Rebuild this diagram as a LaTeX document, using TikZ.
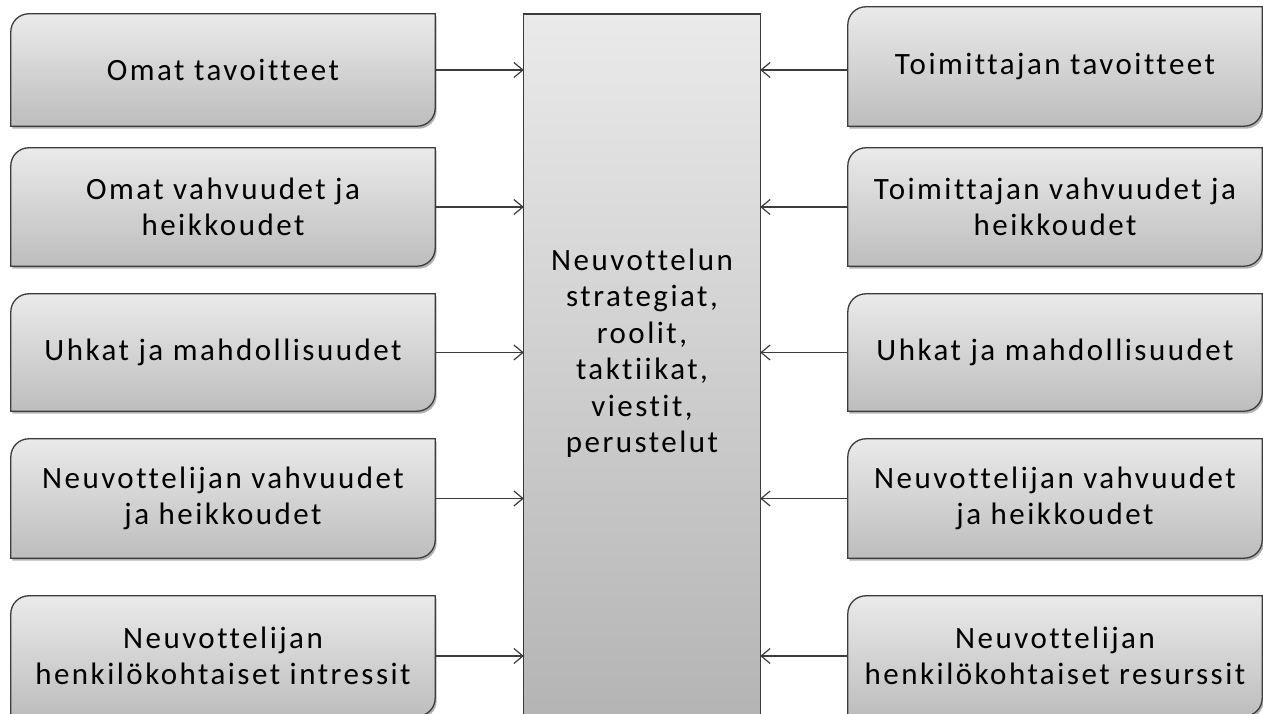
\documentclass[tikz,border=0pt]{standalone}
\usepackage{fontspec}
\setmainfont[Ligatures=NoCommon,LetterSpace=8]{Carlito}
\usetikzlibrary{arrows.meta,shadows,backgrounds}
\definecolor{edgecol}{HTML}{3C3C3C}
\definecolor{ftop}{HTML}{EAEAEA}
\definecolor{fbot}{HTML}{BDBDBD}
\tikzset{
  tabtext/.style={inner sep=0pt, align=center, text=black,
    font=\fontsize{31}{36.5}\selectfont},
  lefttab/.style={tabtext, minimum width=424pt},
  righttab/.style={tabtext, minimum width=414pt},
  tabline/.style={draw=edgecol, line width=1.3pt, top color=ftop, bottom color=fbot,
    drop shadow={shadow xshift=1.5pt, shadow yshift=-2.5pt, opacity=0.3, fill=black}},
  centerline/.style={draw=edgecol, line width=1.3pt, top color=ftop, bottom color=fbot!95!black},
  arr/.style={draw=edgecol, line width=1.2pt, -{Straight Barb[length=9pt,width=15pt,line width=1.2pt]}}
}
\newcommand{\tabshape}[1]{%
  \draw[tabline] ([yshift=-18pt]#1.north west) arc[start angle=180,end angle=90,radius=18pt]
    -- (#1.north east) -- ([yshift=18pt]#1.south east) arc[start angle=0,end angle=-90,radius=18pt]
    -- (#1.south west) -- cycle;}
\begin{document}
\begin{tikzpicture}[x=1pt,y=1pt]
\useasboundingbox (0,0) rectangle (1263,714);
% left column
\node[lefttab, minimum height=112pt] (L1) at (223,644) {Omat tavoitteet};
\node[lefttab, minimum height=118pt] (L2) at (223,507) {Omat vahvuudet ja\\heikkoudet};
\node[lefttab, minimum height=117pt] (L3) at (223,361.5) {Uhkat ja mahdollisuudet};
\node[lefttab, minimum height=119pt] (L4) at (223,215.5) {Neuvottelijan vahvuudet\\ja heikkoudet};
\node[lefttab, minimum height=120pt] (L5) at (223,58) {Neuvottelijan\\henkilökohtaiset intressit};
% right column
\node[righttab, minimum height=119pt] (R1) at (1055,647.5) {Toimittajan tavoitteet};
\node[righttab, minimum height=118pt] (R2) at (1055,507) {Toimittajan vahvuudet ja\\heikkoudet};
\node[righttab, minimum height=117pt] (R3) at (1055,361.5) {Uhkat ja mahdollisuudet};
\node[righttab, minimum height=119pt] (R4) at (1055,215.5) {Neuvottelijan vahvuudet\\ja heikkoudet};
\node[righttab, minimum height=120pt] (R5) at (1055,58) {Neuvottelijan\\henkilökohtaiset resurssit};
% centre
\node[tabtext, minimum width=236pt] (C) at (642,361) {Neuvottelun\\strategiat,\\roolit,\\taktiikat,\\viestit,\\perustelut};
\begin{scope}[on background layer]
  \foreach \n in {L1,L2,L3,L4,L5,R1,R2,R3,R4,R5} {\tabshape{\n}}
  \draw[centerline] (C.west |- 0,700) rectangle (C.east |- 0,-12);
\end{scope}
% connectors
\foreach \n in {L1,L2,L3,L4,L5} {\draw[arr] (\n.east) -- (C.west |- \n.east);}
\draw[arr] (R1.west |- L1.east) -- (C.east |- L1.east);
\foreach \n in {R2,R3,R4,R5} {\draw[arr] (\n.west) -- (C.east |- \n.west);}
\end{tikzpicture}
\end{document}
